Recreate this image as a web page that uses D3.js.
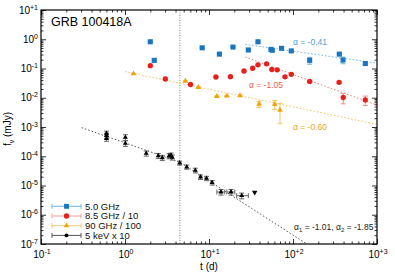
<!DOCTYPE html>
<html>
<head>
<meta charset="utf-8">
<script src="https://cdn.jsdelivr.net/npm/d3@7"></script>
<style>
  body { margin: 0; background: #fff; }
  svg text { font-family: "Liberation Sans", Arial, Helvetica, sans-serif; }
</style>
</head>
<body>
<svg id="chart" width="395" height="275"></svg>
<script>
'use strict';

// 5.0 GHz (mJy)
const t5 = [2.0, 2.23, 8.3, 13.3, 19.3, 29.4, 38.3, 54.7, 56.7, 73, 95.5, 158, 356, 394, 726];
const f5 = [0.82, 0.19, 0.51, 0.31, 0.54, 0.43, 0.82, 0.45, 0.42, 0.49, 0.40, 0.19, 0.31, 0.195, 0.148];
const e5 = [0.02, 0.02, 0.02, 0.02, 0.02, 0.02, 0.03, 0.02, 0.02, 0.02, 0.02, 0.05, 0.02, 0.05, 0.015];

// 8.5 GHz / 10
const t85 = [2.0, 3.02, 6.03, 12.1, 18.0, 26.1, 33.1, 38.3, 48.4, 56, 64.9, 80.3, 95.5, 158, 354, 396, 726];
const f85 = [0.125, 0.0438, 0.0284, 0.0512, 0.0525, 0.082, 0.102, 0.134, 0.145, 0.0925, 0.0903, 0.052, 0.0634, 0.036, 0.0337, 0.0102, 0.0084];
const e85 = [0.005, 0.003, 0.002, 0.003, 0.003, 0.004, 0.005, 0.006, 0.006, 0.005, 0.005, 0.003, 0.004, 0.003, 0.003, 0.004, 0.003];

// 90 GHz / 100
const t90 = [1.26, 5.22, 7.46, 12.4, 16.3, 23.4, 39.4, 60.6, 70];
const f90 = [0.0664, 0.0374, 0.0228, 0.0112, 0.0115, 0.0119, 0.0061, 0.0060, 0.0038];
const e90 = [0.002, 0.001, 0.001, 0.0005, 0.0005, 0.0005, 0.0015, 0.002, 0.0025];

// 5 keV x 10
const tX = [0.603, 0.603, 0.603, 1.01, 1.01, 1.79, 2.49, 2.78, 3.34, 3.53, 3.66, 4.48, 5.43, 6.87, 7.92, 9.34, 10.9, 13.9, 18.3, 24.5];
const fX = [6.0e-4, 5.1e-4, 4.05e-4, 4.45e-4, 2.77e-4, 1.26e-4, 1.04e-4, 8.9e-5, 1.02e-4, 1.08e-4, 9.2e-5, 5.9e-5, 4.3e-5, 3.3e-5, 1.95e-5, 1.76e-5, 1.25e-5, 6.0e-6, 6.0e-6, 4.5e-6];
const eX = [1.2e-4, 1.0e-4, 0.8e-4, 1.0e-4, 0.6e-4, 0.25e-4, 0.2e-4, 0.18e-4, 0.2e-4, 0.2e-4, 0.18e-4, 0.9e-5, 0.7e-5, 0.6e-5, 0.35e-5, 0.3e-5, 0.22e-5, 1.3e-6, 1.3e-6, 1.0e-6];
const tXlo = [0, 0, 0, 0, 0, 0, 0, 0, 0, 0, 0, 0, 0, 0, 0, 0, 0, 1.5, 2.0, 3.1];
const tXhi = [0, 0, 0, 0, 0, 0, 0, 0, 0, 0, 0, 0, 0, 0, 0, 0, 0, 1.5, 2.0, 4.9];
const limitT = [35];
const limitF = [5.8e-6];

// power-law fits: start t, start f, slope
const fit5 = { t0: 27, f0: 0.67, alpha: -0.41 };
const fit85 = { t0: 27, f0: 0.247, alpha: -1.05 };
const fit90 = { t0: 1.0, f0: 0.0778, alpha: -0.60 };
const fitX = { t0: 0.305, f0: 9.5e-4, tBreak: 4.5, alpha1: -1.01, alpha2: -1.85 };
const tBreak = 4.5;

const legendLabels = ["5.0 GHz", "8.5 GHz / 10", "90 GHz / 100", "5 keV x 10"];
const xDecades = [-1, 0, 1, 2, 3];
const yDecades = [-7, -6, -5, -4, -3, -2, -1, 0, 1];

const svg = d3.select("#chart");
const pLeft = 41, pRight = 377, pTop = 10, pBottom = 244;

const x = d3.scaleLog().domain([0.1, 1000]).range([pLeft, pRight]);
const y = d3.scaleLog().domain([1e-7, 10]).range([pBottom, pTop]);

svg.append("defs").append("clipPath").attr("id", "plotclip")
    .append("rect").attr("x", pLeft).attr("y", pTop)
    .attr("width", pRight - pLeft).attr("height", pBottom - pTop);

// minor ticks (2..9 in each decade)
function minors(lo, hi) {
    let out = [];
    for (let p = lo; p < hi; p++) {
        for (let k = 2; k <= 9; k++) out.push(k * Math.pow(10, p));
    }
    return out;
}
const xMinor = minors(-1, 3);
const yMinor = minors(-7, 1);
const xMajor = xDecades.map(p => Math.pow(10, p));
const yMajor = yDecades.map(p => Math.pow(10, p));

function tickAxis(axisFn, scale, g, values, size) {
    g.call(axisFn(scale).tickValues(values).tickSize(size).tickFormat(""));
    g.select(".domain").remove();
    g.selectAll("line").attr("stroke", "#000").attr("stroke-width", 0.8);
}
tickAxis(d3.axisBottom, x, svg.append("g").attr("transform", `translate(0,${pBottom})`), xMajor, -5);
tickAxis(d3.axisBottom, x, svg.append("g").attr("transform", `translate(0,${pBottom})`), xMinor, -2.5);
tickAxis(d3.axisTop, x, svg.append("g").attr("transform", `translate(0,${pTop})`), xMajor, -5);
tickAxis(d3.axisTop, x, svg.append("g").attr("transform", `translate(0,${pTop})`), xMinor, -2.5);
tickAxis(d3.axisLeft, y, svg.append("g").attr("transform", `translate(${pLeft},0)`), yMajor, -5);
tickAxis(d3.axisLeft, y, svg.append("g").attr("transform", `translate(${pLeft},0)`), yMinor, -2.5);
tickAxis(d3.axisRight, y, svg.append("g").attr("transform", `translate(${pRight},0)`), yMajor, -5);
tickAxis(d3.axisRight, y, svg.append("g").attr("transform", `translate(${pRight},0)`), yMinor, -2.5);

// tick labels as 10^n
function powLabel(sel, p) {
    sel.append("tspan").text("10");
    sel.append("tspan").attr("dy", -4).attr("font-size", 7).text(p > 0 ? "+" + p : String(p));
}
xDecades.forEach(p => {
    let t = svg.append("text").attr("x", x(Math.pow(10, p)) + 1).attr("y", 258)
        .attr("font-size", 10).attr("text-anchor", "middle");
    powLabel(t, p);
});
yDecades.forEach(p => {
    let t = svg.append("text").attr("x", 38).attr("y", y(Math.pow(10, p)) + 3.5)
        .attr("font-size", 10).attr("text-anchor", "end");
    powLabel(t, p);
});

// axis titles
svg.append("text").attr("x", (pLeft + pRight) / 2).attr("y", 270)
    .attr("font-size", 10).attr("text-anchor", "middle").text("t (d)");
let yl = svg.append("text").attr("transform", `translate(11,${(pTop + pBottom) / 2 + 2}) rotate(-90)`)
    .attr("font-size", 10).attr("text-anchor", "middle");
yl.append("tspan").text("f");
yl.append("tspan").attr("dy", 2.5).attr("font-size", 7).text("ν");
yl.append("tspan").attr("dy", -2.5).text(" (mJy)");

const plot = svg.append("g").attr("clip-path", "url(#plotclip)");

// break time
plot.append("line")
    .attr("x1", x(tBreak)).attr("x2", x(tBreak)).attr("y1", pTop).attr("y2", pBottom)
    .attr("stroke", "#888").attr("stroke-width", 1).attr("stroke-dasharray", "1,1.5");

// fit lines
const line = d3.line().x(d => x(d[0])).y(d => y(d[1]));
function powerFit(fit, tEnd, color) {
    let pts = [[fit.t0, fit.f0], [tEnd, fit.f0 * Math.pow(tEnd / fit.t0, fit.alpha)]];
    plot.append("path").attr("d", line(pts)).attr("fill", "none")
        .attr("stroke", color).attr("stroke-width", 1).attr("stroke-dasharray", "1.5,2");
}
powerFit(fit5, 1000, "#6fb6e0");
powerFit(fit85, 1000, "#f07c78");
powerFit(fit90, 1000, "#f3c260");
{
    let fb = fitX.f0 * Math.pow(fitX.tBreak / fitX.t0, fitX.alpha1);
    let pts = [[fitX.t0, fitX.f0], [fitX.tBreak, fb], [1000, fb * Math.pow(1000 / fitX.tBreak, fitX.alpha2)]];
    plot.append("path").attr("d", line(pts)).attr("fill", "none")
        .attr("stroke", "#555").attr("stroke-width", 1).attr("stroke-dasharray", "1.5,2");
}

// data series
function series(ts, fs, es, color, errColor, symbol, size) {
    let g = plot.append("g");
    ts.forEach((t, i) => {
        let e = es[i];
        let lo = Math.max(fs[i] - e, 1e-9), hi = fs[i] + e;
        let xi = x(t);
        g.append("line").attr("x1", xi).attr("x2", xi).attr("y1", y(lo)).attr("y2", y(hi))
            .attr("stroke", errColor).attr("stroke-width", 1);
        [lo, hi].forEach(v => g.append("line").attr("x1", xi - 2.5).attr("x2", xi + 2.5)
            .attr("y1", y(v)).attr("y2", y(v)).attr("stroke", errColor).attr("stroke-width", 1));
    });
    g.selectAll("path.m").data(ts).join("path").attr("class", "m")
        .attr("d", d3.symbol().type(symbol).size(size))
        .attr("transform", (t, i) => `translate(${x(t)},${y(fs[i])})`)
        .attr("fill", color);
}
series(t90, f90, e90, "#f0a30a", "#f3c260", d3.symbolTriangle, 14);
series(t85, f85, e85, "#e8201c", "#f08a86", d3.symbolCircle, 22);
series(t5, f5, e5, "#1a76bf", "#6fb6e0", d3.symbolSquare, 26);

// x-ray horizontal error bars
tX.forEach((t, i) => {
    if (tXlo[i] > 0) {
        let yi = y(fX[i]);
        plot.append("line").attr("x1", x(t - tXlo[i])).attr("x2", x(t + tXhi[i]))
            .attr("y1", yi).attr("y2", yi).attr("stroke", "#666").attr("stroke-width", 1);
        [t - tXlo[i], t + tXhi[i]].forEach(v => plot.append("line")
            .attr("x1", x(v)).attr("x2", x(v)).attr("y1", yi - 2.5).attr("y2", yi + 2.5)
            .attr("stroke", "#666").attr("stroke-width", 1));
    }
});
series(tX, fX, eX, "#000", "#666", d3.symbolTriangle, 11);
plot.selectAll("path.lim").data(limitT).join("path").attr("class", "lim")
    .attr("d", d3.symbol().type(d3.symbolTriangle).size(13))
    .attr("transform", (t, i) => `translate(${x(t)},${y(limitF[i])}) rotate(180)`)
    .attr("fill", "#000");

// frame
svg.append("rect").attr("x", pLeft).attr("y", pTop).attr("width", pRight - pLeft).attr("height", pBottom - pTop)
    .attr("fill", "none").attr("stroke", "#000").attr("stroke-width", 1.2);

// annotations
svg.append("text").attr("x", 51).attr("y", 26).attr("font-size", 12.5).text("GRB 100418A");
svg.append("text").attr("x", 293).attr("y", 45).attr("font-size", 8.5).attr("fill", "#4aa3d8").text("α = -0.41");
svg.append("text").attr("x", 249).attr("y", 87.5).attr("font-size", 8.5).attr("fill", "#ec5a55").text("α = -1.05");
svg.append("text").attr("x", 293).attr("y", 129.5).attr("font-size", 8.5).attr("fill", "#eaa620").text("α = -0.60");
{
    let a = svg.append("text").attr("x", 294).attr("y", 230).attr("font-size", 8.5).attr("fill", "#222");
    a.append("tspan").text("α");
    a.append("tspan").attr("dy", 2).attr("font-size", 6).text("1");
    a.append("tspan").attr("dy", -2).text(" = -1.01, α");
    a.append("tspan").attr("dy", 2).attr("font-size", 6).text("2");
    a.append("tspan").attr("dy", -2).text(" = -1.85");
}

// legend
const legColors = ["#1a76bf", "#e8201c", "#f0a30a", "#000"];
const legErr = ["#6fb6e0", "#f5a09c", "#f3c878", "#555"];
const legSym = [d3.symbolSquare, d3.symbolCircle, d3.symbolTriangle, d3.symbolCircle];
const legSize = [24, 22, 13, 12];
legendLabels.forEach((lab, i) => {
    let yy = 206.3 + i * 9.7;
    let g = svg.append("g");
    g.append("line").attr("x1", 52).attr("x2", 81).attr("y1", yy).attr("y2", yy)
        .attr("stroke", legErr[i]).attr("stroke-width", 1);
    [52, 81].forEach(v => g.append("line").attr("x1", v).attr("x2", v).attr("y1", yy - 2.5).attr("y2", yy + 2.5)
        .attr("stroke", legErr[i]).attr("stroke-width", 1));
    g.append("path").attr("d", d3.symbol().type(legSym[i]).size(legSize[i])())
        .attr("transform", `translate(66.5,${yy})`).attr("fill", legColors[i]);
    g.append("text").attr("x", 85).attr("y", yy + 3.3).attr("font-size", 9.5).attr("fill", "#111").text(lab);
});
</script>
</body>
</html>
